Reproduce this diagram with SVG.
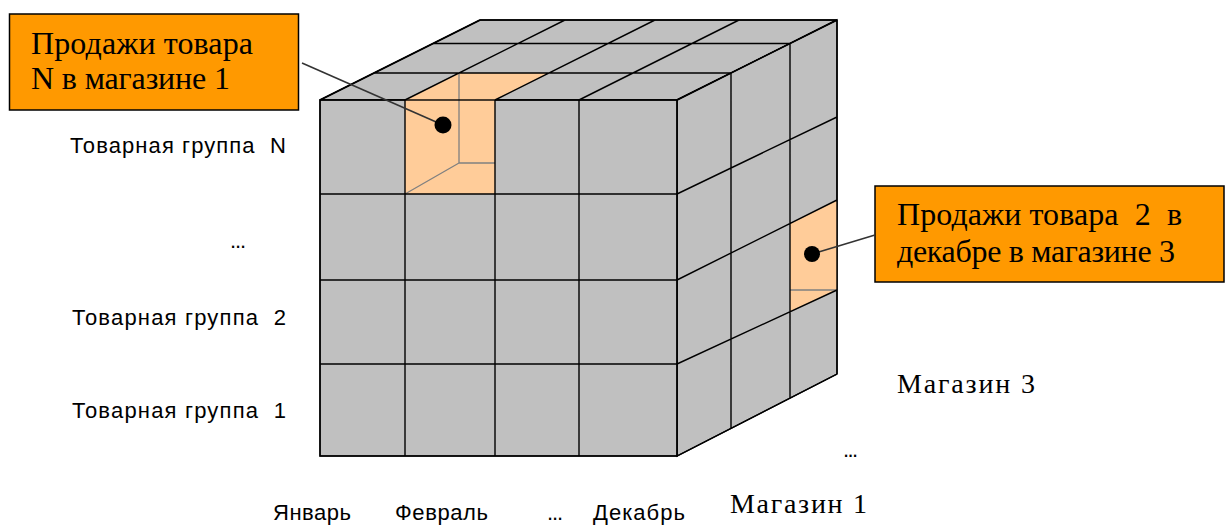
<svg xmlns="http://www.w3.org/2000/svg" width="1226" height="527" viewBox="0 0 1226 527">
<style>
.face{fill:#C0C0C0;stroke:#000;stroke-width:1.4;stroke-linejoin:miter}
.hl{fill:#FFCC99;stroke:none}
.grid{stroke:#000;stroke-width:1.4;fill:none}
.inner{stroke:#808080;stroke-width:1.3;fill:none}
.box{fill:#FF9900;stroke:#000;stroke-width:1.5}
.ct{font-family:"Liberation Serif","Times New Roman",serif;font-size:32px;fill:#000}
.ml{font-family:"Liberation Serif","Times New Roman",serif;font-size:28px;fill:#000}
.lb{font-family:"Liberation Sans",Arial,sans-serif;font-size:22px;fill:#000}
.lead{stroke:#333;stroke-width:1.6;fill:none}
.dot{fill:#000}
</style>
<rect width="1226" height="527" fill="#fff"/>
<g id="cube">
  <polygon class="face" points="320,100 677,100 837,20 480,20"/>
  <polygon class="face" points="677,100 837,20 837,374 677,456"/>
  <rect class="face" x="320" y="100" width="357" height="356"/>
  <rect class="hl" x="405" y="100" width="90" height="94"/>
  <polygon class="hl" points="405,100 495,100 549,73 459,73"/>
  <polygon class="hl" points="790,223.5 837,200 837,290 790,311.8"/>
  <path class="inner" d="M459,73 V163 H495 M405,194 L459,163 M790,290 H837"/>
  <path class="grid" d="M374,73 H731 M433,43.5 H790 M480,20 H837
    M320,100 L480,20 M405,100 L565,20 M495,100 L655,20 M579,100 L739,20 M677,100 L837,20
    M320,194 H677 M320,280 H677 M320,364 H677
    M405,100 V456 M495,100 V456 M579,100 V456
    M677,194 L837,117 M677,280 L837,200 M677,364 L837,290 M677,456 L837,374
    M731,73 V428.3 M790,43.5 V398 M837,20 V374"/>
  <rect x="320" y="100" width="357" height="356" fill="none" stroke="#000" stroke-width="1.4"/>
</g>
<g id="callout-1">
  <rect class="box" x="9.5" y="14" width="289" height="96"/>
  <text class="ct" x="31" y="54" textLength="222" lengthAdjust="spacing">Продажи товара</text>
  <text class="ct" x="31" y="89" textLength="199" lengthAdjust="spacing">N в магазине 1</text>
</g>
<g id="callout-2">
  <rect class="box" x="875" y="186" width="349" height="96"/>
  <text class="ct" x="897" y="225" textLength="285" lengthAdjust="spacing" xml:space="preserve">Продажи товара  2  в</text>
  <text class="ct" x="897" y="262" textLength="278" lengthAdjust="spacing">декабре в магазине 3</text>
</g>
<g id="connectors">
  <line class="lead" x1="302" y1="63" x2="443" y2="125"/>
  <circle class="dot" cx="443" cy="125" r="8.5"/>
  <line class="lead" x1="812" y1="254" x2="875" y2="235"/>
  <circle class="dot" cx="812" cy="254" r="8"/>
</g>
<g id="row-labels">
  <text class="lb" x="70" y="153" textLength="216" lengthAdjust="spacing" xml:space="preserve">Товарная группа  N</text>
  <text class="lb" x="230" y="248" textLength="16" lengthAdjust="spacing">...</text>
  <text class="lb" x="72" y="325" textLength="214" lengthAdjust="spacing" xml:space="preserve">Товарная группа  2</text>
  <text class="lb" x="72" y="418" textLength="214" lengthAdjust="spacing" xml:space="preserve">Товарная группа  1</text>
</g>
<g id="month-labels">
  <text class="lb" x="273" y="520" textLength="78" lengthAdjust="spacing">Январь</text>
  <text class="lb" x="395" y="520" textLength="93" lengthAdjust="spacing">Февраль</text>
  <text class="lb" x="547" y="520" textLength="16" lengthAdjust="spacing">...</text>
  <text class="lb" x="593" y="520" textLength="92" lengthAdjust="spacing">Декабрь</text>
</g>
<g id="store-labels">
  <text class="ml" x="897" y="393" textLength="138" lengthAdjust="spacing">Магазин 3</text>
  <text class="lb" x="843" y="457" textLength="15" lengthAdjust="spacing">...</text>
  <text class="ml" x="730" y="513" textLength="137" lengthAdjust="spacing">Магазин 1</text>
</g>
</svg>
